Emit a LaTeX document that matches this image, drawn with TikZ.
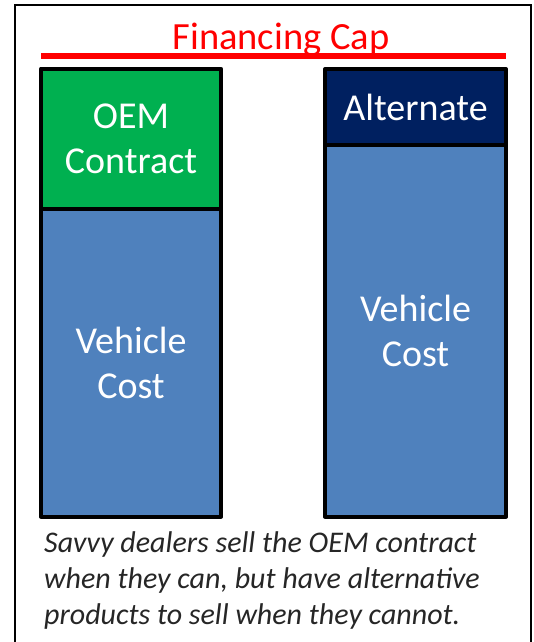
\documentclass[tikz,border=0pt]{standalone}
\usepackage{fontspec}
\setmainfont{Carlito}
\definecolor{capred}{HTML}{FF0000}
\definecolor{oemgreen}{HTML}{00B050}
\definecolor{costblue}{HTML}{4F81BD}
\definecolor{altnavy}{HTML}{002060}
\definecolor{notegray}{HTML}{262626}
\tikzset{
  barpart/.style={draw=black, line width=4pt, line join=round, inner sep=0pt, outer sep=0pt,
    text=white, align=center, font=\fontsize{38}{45}\selectfont},
  noteline/.style={anchor=base west, inner sep=0pt, text=notegray,
    font=\fontsize{30}{36}\selectfont\itshape}
}
\begin{document}
\begin{tikzpicture}[x=1pt, y=-1pt]
  \useasboundingbox (0,0) rectangle (534,642);
  % outer frame, open at the bottom edge
  \draw[line width=2pt] (15,650) -- (15,5) -- (530.5,5) -- (530.5,650);

  % cap line and its title
  \coordinate (capL) at (41,56);
  \coordinate (capR) at (506,56);
  \draw[capred, line width=5.5pt] (capL) -- (capR);
  \node[anchor=base, inner sep=0pt, text=capred, font=\fontsize{38.5}{45}\selectfont] (title) at (281,49) {Financing Cap};

  % left bar: OEM contract over vehicle cost
  \node[barpart, fill=costblue, minimum width=180pt, minimum height=307.8pt] (lcost) at (131,362.6) {Vehicle\\Cost};
  \node[barpart, fill=oemgreen, minimum width=180pt, minimum height=140pt] (oem) at (131,138.7) {OEM\\Contract};

  % right bar: alternate product over vehicle cost
  \node[barpart, fill=costblue, minimum width=181pt, minimum height=371.2pt] (rcost) at (415.5,330.9) {Vehicle\\Cost};
  \node[barpart, fill=altnavy, minimum width=181pt, minimum height=76.3pt] (alt) at (415.5,107.2) {Alternate};

  % note under the bars
  \node[noteline] (note1) at (44,552) {Savvy dealers sell the OEM contract};
  \node[noteline] (note2) at (44,588) {when they can, but have alternative};
  \node[noteline] (note3) at (44,624) {products to sell when they cannot.};
\end{tikzpicture}
\end{document}
